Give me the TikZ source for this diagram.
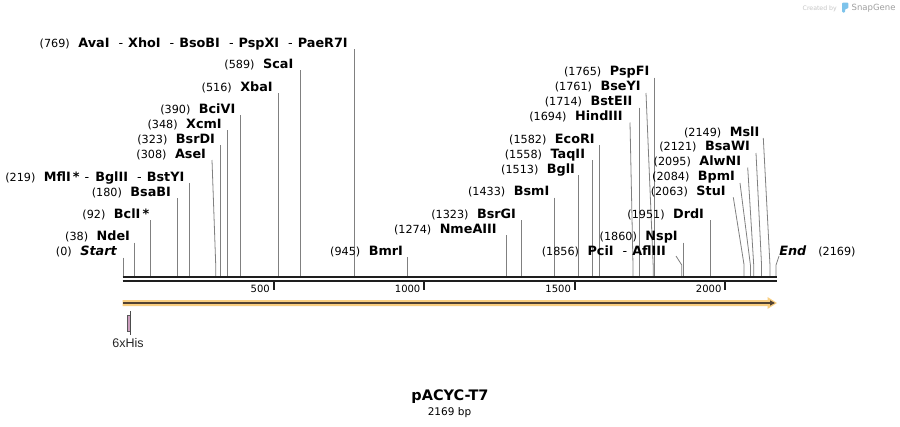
\documentclass[tikz,border=0pt]{standalone}
\usepackage{fontspec}
\usetikzlibrary{calc,arrows.meta}
\setmainfont{DejaVu Sans}
\newfontfamily\arialf{Liberation Sans}
\definecolor{cutgray}{RGB}{128,128,128}
\definecolor{barblack}{RGB}{30,30,30}
\definecolor{featorange}{RGB}{249,206,128}
\definecolor{featdark}{RGB}{82,66,50}
\definecolor{hispink}{RGB}{204,158,190}
\definecolor{logoblue}{RGB}{125,195,235}
\def\sc{0.30106}
\newcommand\dsep{\hspace{9pt}{\mdseries-}\hspace{5pt}}
\newcommand\enz[2]{(#1)\hspace{8.5pt}{\fontsize{12.8}{14}\selectfont\bfseries #2}}
\newcommand\vsite[5]{%
  \node[lab] (#1) at (#4,#5) {\enz{#2}{#3}};
  \coordinate (#1-t) at ({123+#2*\sc},#5+2);
  \coordinate (#1-b) at ({123+#2*\sc},276);
  \draw[cutline] (#1-t) -- (#1-b);
}
\newcommand\ssite[7]{%
  \node[lab] (#1) at (#4,#5) {\enz{#2}{#3}};
  \coordinate (#1-t) at (#6,#7);
  \coordinate (#1-k) at ({123+#2*\sc},265);
  \coordinate (#1-b) at ({123+#2*\sc},276);
  \draw[cutline] (#1-t) -- (#1-k) -- (#1-b);
}
\tikzset{
  lab/.style={inner sep=0pt, outer sep=0pt, anchor=base east, font=\fontsize{11.2}{13}\selectfont},
  cutline/.style={draw=cutgray, line width=0.8pt},
  barline/.style={draw=barblack},
  ticklab/.style={inner sep=0pt, anchor=base east, font=\fontsize{10}{12}\selectfont},
  tickmark/.style={draw=barblack, line width=2pt},
}
\begin{document}
\begin{tikzpicture}[x=1pt,y=-1pt]
\fill[white] (0,0) rectangle (900,426);
\useasboundingbox (0,0) rectangle (900,426);

% watermark
\node[inner sep=0pt, anchor=base west, text=gray!45, font=\fontsize{6.2}{7}\selectfont] (cb) at (802.5,10.5) {Created by};
\fill[logoblue, rounded corners=1pt] (842,2.5) -- (848.3,2.5) -- (848.3,8.5) -- (845,9) -- (845,12.5) -- (842,12.5) -- cycle;
\node[inner sep=0pt, anchor=base west, text=gray!75, font=\fontsize{8.5}{10}\selectfont] (sg) at (851.5,10.5) {SnapGene};

% enzyme sites, left group
\vsite{ava}{769}{AvaI\dsep XhoI\dsep BsoBI\dsep PspXI\dsep PaeR7I}{347.7}{47.3}
\vsite{sca}{589}{ScaI}{293.3}{68}
\vsite{xba}{516}{XbaI}{272.7}{91.3}
\vsite{bci}{390}{BciVI}{235.3}{113.3}
\vsite{xcm}{348}{XcmI}{221.7}{128.3}
\vsite{bsrd}{323}{BsrDI}{215}{143}
\ssite{ase}{308}{AseI}{206}{158.3}{212}{160}
\vsite{mfl}{219}{MflI\,*\hspace{5pt}{\mdseries-}\hspace{6pt}BglII\dsep BstYI}{184.3}{181.3}
\vsite{bsab}{180}{BsaBI}{171}{196.3}
\vsite{bcl}{92}{BclI\,*}{149.3}{218.3}
\vsite{nde}{38}{NdeI}{130}{240.7}
\node[lab] (start) at (116.7,255.7) {(0)\hspace{8.5pt}{\fontsize{12.8}{14}\selectfont\bfseries\itshape Start}};
\coordinate (start-t) at (123,257.7);
\coordinate (start-b) at (123,276);
\draw[cutline] (start-t) -- (start-b);

% middle group
\vsite{bmr}{945}{BmrI}{403}{255}
\vsite{nme}{1274}{NmeAIII}{496.7}{233.3}
\vsite{bsrg}{1323}{BsrGI}{516}{218}
\vsite{bsm}{1433}{BsmI}{549.3}{195.7}
\vsite{bgl}{1513}{BglI}{575}{173}
\vsite{taq}{1558}{TaqII}{585}{158}
\vsite{eco}{1582}{EcoRI}{594.7}{143}
\ssite{hind}{1694}{HindIII}{622.7}{120.7}{630}{122.5}
\vsite{bste}{1714}{BstEII}{632.3}{105.7}
\ssite{bsey}{1761}{BseYI}{640.7}{90.7}{646}{93}
\vsite{pspf}{1765}{PspFI}{649.3}{75.7}
\ssite{pci}{1856}{PciI\dsep AflIII}{666}{255.7}{676}{256}
\vsite{nsp}{1860}{NspI}{677.7}{240.7}
\vsite{drd}{1951}{DrdI}{704}{218}
\ssite{stu}{2063}{StuI}{725.7}{195.7}{733.3}{197.3}
\ssite{bpm}{2084}{BpmI}{735}{180.7}{740}{183}
\ssite{alw}{2095}{AlwNI}{741}{165.7}{747.7}{167.5}
\ssite{bsaw}{2121}{BsaWI}{750}{150.7}{756}{153}
\ssite{msl}{2149}{MslI}{759.3}{136.3}{763.3}{138}
\node[lab, anchor=base west] (end) at (779.3,255.7) {{\fontsize{12.8}{14}\selectfont\bfseries\itshape End}};
\node[lab, anchor=base west] (endpos) at (818.3,255.7) {(2169)};
\coordinate (end-t) at (779,256);
\coordinate (end-k) at (776,265);
\coordinate (end-b) at (776,276);
\draw[cutline] (end-t) -- (end-k) -- (end-b);

% sequence bar
\coordinate (seqL) at (122.7,0);
\coordinate (seqR) at (777.3,0);
\draw[barblack, line width=2.6pt] (seqL |- 0,277) -- (seqR |- 0,277);
\draw[barblack, line width=2.3pt] (seqL |- 0,281.2) -- (seqR |- 0,281.2);

% ticks
\foreach \t in {500,1000,1500,2000}{
  \coordinate (tk\t) at ({123+\t*\sc},282);
  \draw[tickmark] (tk\t) -- ++(0,7.7);
  \node[ticklab] (tl\t) at ($(tk\t)+(-3.5,10.5)$) {\t};
}

% feature arrow
\fill[featorange] (122.7,300) -- (767.5,300) -- (767.5,297) -- (777,303) -- (767.5,309) -- (767.5,306) -- (122.7,306) -- cycle;
\coordinate (fa) at (123,303);
\coordinate (fb) at (775,303);
\draw[featdark, line width=2pt, -{Triangle[length=5pt,width=5pt]}] (fa) -- (fb);

% 6xHis feature
\draw[fill=hispink, draw=gray!70!black, line width=0.6pt] (127.3,315) rectangle (130.7,331.7);
\coordinate (hisT) at (130.7,311);
\coordinate (hisB) at (130.7,335);
\draw[gray!60!black, line width=0.7pt] (hisT) -- (hisB);
\node[inner sep=0pt, anchor=base, font=\arialf\fontsize{12.5}{14}\selectfont, text=black!85] (his) at (128,347.5) {6xHis};

% title
\node[inner sep=0pt, anchor=base, font=\fontsize{14.5}{17}\selectfont\bfseries] (title) at (450,400) {pACYC-T7};
\node[inner sep=0pt, anchor=base, font=\fontsize{10.5}{12}\selectfont] (sub) at (449.5,415) {2169 bp};
\end{tikzpicture}
\end{document}
